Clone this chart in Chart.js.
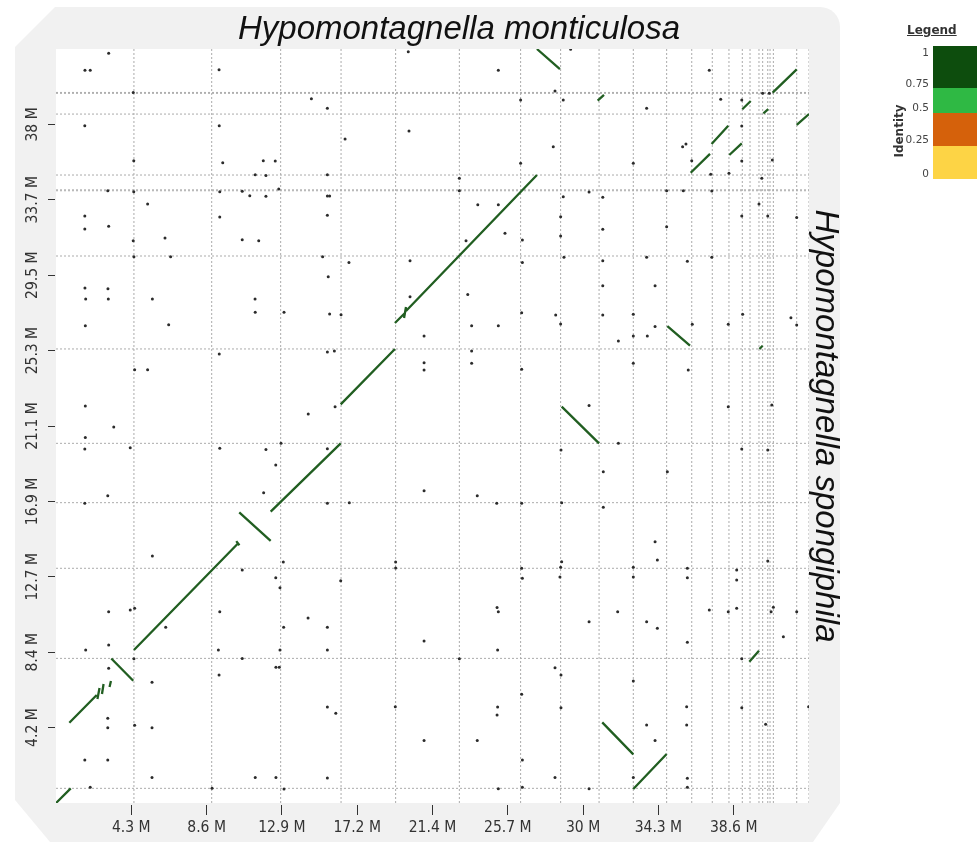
<!DOCTYPE html>
<html>
<head>
<meta charset="utf-8">
<script src="https://cdn.jsdelivr.net/npm/chart.js@4.4.1/dist/chart.umd.min.js"></script>
<style>
  html, body { margin: 0; padding: 0; background: #ffffff; }
  #wrap { position: relative; width: 977px; height: 842px; overflow: hidden; }
  #c { position: absolute; left: 0; top: 0; }
  .ttl { position: absolute; font-family: 'Liberation Sans', Arial, sans-serif; font-style: italic;
         font-size: 33px; line-height: 40px; height: 40px; color: #111; text-align: center; white-space: nowrap; }
  #ttlTop { left: 0; width: 918px; top: 8px; }
  #ttlRight { left: 577px; width: 500px; top: 406px; transform: rotate(90deg); transform-origin: 250px 20px; }
  #legendTitle { position: absolute; left: 907px; top: 23px; font: bold 12px 'DejaVu Sans', sans-serif;
                 color: #333; text-decoration: underline; }
  #legendBar { position: absolute; left: 933px; top: 46px; width: 44px; }
  .lgLab { position: absolute; right: 48px; font: 10.5px 'DejaVu Sans', sans-serif; color: #444; text-align: right; line-height: 12px; }
  #legendAxis { position: absolute; left: 869px; top: 124px; width: 60px; text-align: center;
                font: bold 12px 'DejaVu Sans', sans-serif; color: #333; transform: rotate(-90deg); line-height: 14px; }
</style>
</head>
<body>
<div id="wrap">
  <canvas id="c" width="977" height="842"></canvas>
  <div class="ttl" id="ttlTop">Hypomontagnella monticulosa</div>
  <div class="ttl" id="ttlRight">Hypomontagnella spongiphila</div>
  <div id="legendTitle">Legend</div>
  <div id="legendBar"></div>
  <div id="legendAxis">Identity</div>
</div>
<script>
// ---------------- data (Mb) ----------------
const xMaxMb = 42.9;
const yMaxMb = 42.18;

const xTickValues = [4.29, 8.58, 12.87, 17.16, 21.45, 25.74, 30.03, 34.32, 38.61];
const xTickLabels = ['4.3 M', '8.6 M', '12.9 M', '17.2 M', '21.4 M', '25.7 M', '30 M', '34.3 M', '38.6 M'];
const yTickValues = [4.218, 8.436, 12.654, 16.872, 21.09, 25.308, 29.526, 33.744, 37.962];
const yTickLabels = ['4.2 M', '8.4 M', '12.7 M', '16.9 M', '21.1 M', '25.3 M', '29.5 M', '33.7 M', '38 M'];

// contig boundaries of the query (x) and reference (y) assemblies
const xContigEnds = [4.44, 8.87, 12.80, 16.24, 19.35, 22.98, 26.47, 28.75, 30.94, 32.89, 34.79, 36.22,
                     37.39, 38.34, 39.10, 39.54, 40.05, 40.26, 40.55, 40.68, 40.87, 42.20, 42.90];
const yContigEnds = [0.82, 8.09, 13.13, 16.80, 20.12, 25.40, 30.60, 34.25, 34.30, 35.13, 38.54, 39.70, 39.75];

// alignment blocks: [xStart, yStart, xEnd, yEnd]
const alignSegments = [
  [0.00, 0.00, 0.84, 0.82],
  [0.76, 4.49, 2.32, 6.04],
  [2.36, 5.82, 2.48, 6.43],
  [2.62, 6.10, 2.71, 6.66],
  [3.05, 6.49, 3.13, 6.82],
  [3.15, 8.08, 4.40, 6.84],
  [4.44, 8.56, 10.38, 14.53],
  [10.27, 14.65, 10.45, 14.42],
  [10.44, 16.26, 12.23, 14.66],
  [12.23, 16.30, 16.22, 20.12],
  [16.22, 22.30, 19.31, 25.40],
  [19.31, 26.85, 19.88, 27.41],
  [19.83, 27.13, 19.94, 27.75],
  [19.94, 27.52, 27.40, 35.13],
  [27.40, 42.18, 28.71, 41.06],
  [30.86, 39.29, 31.22, 39.61],
  [36.16, 35.26, 37.26, 36.31],
  [37.35, 36.87, 38.30, 37.89],
  [38.36, 36.25, 39.07, 36.90],
  [39.10, 38.81, 39.58, 39.27],
  [40.30, 38.58, 40.58, 38.81],
  [40.83, 39.74, 42.20, 41.04],
  [42.20, 37.93, 42.90, 38.54],
  [34.83, 26.68, 36.12, 25.58],
  [40.07, 25.40, 40.26, 25.58],
  [28.81, 22.17, 30.94, 20.12],
  [31.12, 4.51, 32.89, 2.72],
  [32.89, 0.78, 34.79, 2.74],
  [39.50, 7.90, 40.05, 8.52]
];

// short hits: [x, y]
const hitPoints = [
[3.00,41.94],[1.65,40.99],[1.95,40.99],[9.29,41.02],[4.40,39.74],[14.55,39.40],[15.46,38.86],[1.64,37.89],[9.30,37.89],[16.47,37.15],
[20.11,37.59],[4.43,35.93],[9.50,35.82],[11.81,35.93],[12.49,35.91],[11.35,35.15],[11.96,35.11],[15.46,35.15],[2.95,34.25],[4.43,34.20],
[9.33,34.20],[10.61,34.22],[12.69,34.35],[11.04,33.97],[11.96,33.94],[15.46,33.96],[15.59,33.96],[5.22,33.51],[1.64,32.84],[9.33,32.78],
[15.46,32.88],[1.64,32.11],[3.00,32.26],[6.21,31.61],[10.61,31.51],[11.55,31.46],[4.40,31.46],[4.44,30.56],[6.53,30.56],[15.19,30.56],
[16.69,30.23],[20.17,30.34],[15.51,29.44],[1.65,28.81],[2.96,28.77],[1.69,28.19],[2.98,28.19],[5.49,28.19],[11.34,28.19],[20.17,28.32],
[11.35,27.45],[12.99,27.45],[15.59,27.36],[16.24,27.32],[1.67,26.70],[6.42,26.76],[9.30,25.12],[15.46,25.23],[15.86,25.29],[4.48,24.24],
[5.22,24.24],[1.67,22.21],[15.90,22.17],[14.37,21.76],[3.29,21.03],[1.67,20.44],[1.64,19.80],[4.23,19.88],[9.33,19.84],[11.96,19.77],
[15.46,19.82],[12.82,20.12],[12.52,18.91],[2.95,17.19],[11.83,17.36],[1.64,16.77],[15.46,16.77],[16.71,16.80],[5.49,13.82],[12.95,13.48],
[10.61,13.03],[19.35,13.48],[19.35,13.15],[12.52,12.60],[12.76,12.04],[16.22,12.44],[3.00,10.70],[4.23,10.80],[4.48,10.89],[9.33,10.70],
[14.36,10.35],[6.25,9.83],[12.97,9.83],[15.46,9.83],[1.69,8.56],[3.00,8.84],[9.25,8.56],[12.76,8.56],[15.46,8.56],[4.44,8.07],
[10.61,8.09],[3.00,7.54],[12.53,7.59],[12.72,7.59],[9.29,7.16],[5.47,6.75],[15.46,5.37],[15.94,5.02],[19.33,5.39],[2.95,4.74],
[2.95,4.21],[4.48,4.35],[5.47,4.21],[1.64,2.41],[2.95,2.41],[5.47,1.42],[11.35,1.42],[12.53,1.42],[15.46,1.40],[1.95,0.88],
[8.89,0.82],[12.99,0.78],
[20.07,42.03],[29.32,42.16],[25.20,40.99],[37.22,40.99],[28.43,39.83],[26.47,39.33],[28.90,39.33],[37.87,39.37],[39.07,39.33],[33.65,38.86],
[28.33,36.71],[35.70,36.71],[35.89,36.87],[39.07,37.87],[26.47,35.79],[32.89,35.79],[39.07,35.91],[40.81,35.97],[37.30,35.17],[38.34,35.23],
[22.98,34.95],[40.21,34.95],[22.98,34.25],[30.37,34.18],[34.79,34.25],[35.74,34.25],[37.36,34.24],[28.90,33.92],[31.15,33.88],[24.03,33.47],
[25.20,33.47],[40.05,33.51],[28.75,32.80],[39.07,32.84],[40.55,32.84],[31.15,32.09],[34.79,32.24],[23.36,31.46],[25.58,31.87],[26.57,31.50],
[28.75,31.72],[26.57,30.23],[28.94,30.53],[31.15,30.34],[33.65,30.53],[35.97,30.30],[37.36,30.53],[23.46,28.44],[31.15,28.94],[34.13,28.94],
[26.53,27.43],[28.47,27.30],[31.15,27.30],[32.89,27.34],[39.12,27.34],[23.68,26.70],[25.20,26.70],[28.75,26.80],[34.13,26.65],[36.25,26.78],
[38.30,26.78],[41.87,27.15],[42.20,26.74],[20.97,26.13],[32.04,25.85],[32.89,26.13],[33.69,26.13],[23.68,25.29],[20.97,24.63],[20.97,24.22],
[23.68,24.60],[32.89,24.60],[26.53,24.26],[36.02,24.22],[30.37,22.23],[38.30,22.17],[40.78,22.26],[28.77,19.75],[32.04,20.12],[39.07,19.80],
[40.55,19.75],[31.18,18.53],[34.83,18.53],[20.97,17.47],[24.00,17.19],[25.11,16.77],[26.53,16.77],[28.81,16.80],[31.18,16.54],[34.13,14.62],
[34.26,13.59],[28.81,13.50],[40.55,13.54],[26.53,13.13],[28.75,13.19],[32.89,13.19],[35.97,13.13],[38.78,13.03],
[26.57,12.57],[28.71,12.64],[32.89,12.64],[35.97,12.60],[38.78,12.47],[25.13,10.93],[25.20,10.70],[32.00,10.70],[37.22,10.80],[38.30,10.70],
[38.78,10.89],[40.74,10.70],[40.87,10.95],[42.20,10.70],[30.37,10.14],[33.65,10.14],[34.26,9.77],[41.44,9.30],[20.97,9.06],[25.16,8.56],
[35.97,8.99],[22.98,8.07],[39.07,8.07],[28.43,7.57],[28.77,7.16],[32.89,6.82],[26.53,6.08],[25.16,5.37],[25.13,4.92],[28.77,5.33],
[35.93,5.39],[39.07,5.33],[33.65,4.36],[35.93,4.36],[40.43,4.40],[20.97,3.49],[24.00,3.49],[34.13,3.49],[26.57,2.41],[28.43,1.42],
[32.89,1.42],[35.97,1.38],[25.20,0.80],[26.57,0.88],[30.37,0.80],[35.97,0.88],
[42.20,32.76],[36.22,35.93],[42.88,5.39],[40.26,39.70],[40.64,39.70]
];

// identity colour key
const legendStops = ['1', '0.75', '0.5', '0.25', '0'];
const legendColors = ['#0d4d0d', '#2fb944', '#d5610b', '#fdd445'];

// ---------------- build datasets ----------------
const vGrid = [];
xContigEnds.forEach(v => { vGrid.push({x: v, y: 0}, {x: v, y: yMaxMb}, {x: v, y: null}); });
const hGrid = [];
yContigEnds.forEach(v => { hGrid.push({x: 0, y: v}, {x: xMaxMb, y: v}, {x: xMaxMb, y: null}); });
const segData = [];
alignSegments.forEach(s => { segData.push({x: s[0], y: s[1]}, {x: s[2], y: s[3]}, {x: s[2], y: null}); });
const hitData = hitPoints.map(p => ({x: p[0], y: p[1]}));

const panelPlugin = {
  id: 'panel',
  beforeDraw(chart) {
    const ctx = chart.ctx, a = chart.chartArea;
    ctx.save();
    ctx.fillStyle = '#f1f1f1';
    ctx.beginPath();
    ctx.moveTo(15, 47);
    ctx.lineTo(55, 7);
    ctx.lineTo(820, 7);
    ctx.arcTo(840, 7, 840, 27, 20);
    ctx.lineTo(840, 803);
    ctx.lineTo(813, 842);
    ctx.lineTo(50, 842);
    ctx.lineTo(15, 800);
    ctx.closePath();
    ctx.fill();
    ctx.fillStyle = '#ffffff';
    ctx.fillRect(a.left, a.top, a.right - a.left, a.bottom - a.top);
    ctx.restore();
  }
};

const tickFont = { family: "'DejaVu Sans Condensed', 'DejaVu Sans', sans-serif", size: 15.5 };

new Chart(document.getElementById('c'), {
  type: 'scatter',
  data: {
    datasets: [
      { type: 'line', data: hitData, showLine: false, pointRadius: 1.5, pointBackgroundColor: '#2b2b2b',
        pointBorderWidth: 0, order: 0 },
      { type: 'line', data: segData, borderColor: '#215e21', borderWidth: 2.3, pointRadius: 0, spanGaps: false,
        fill: false, order: 1 },
      { type: 'line', data: vGrid, borderColor: '#ababab', borderWidth: 1, borderDash: [2, 2], pointRadius: 0,
        spanGaps: false, fill: false, order: 2 },
      { type: 'line', data: hGrid, borderColor: '#ababab', borderWidth: 1, borderDash: [2, 2], pointRadius: 0,
        spanGaps: false, fill: false, order: 3 }
    ]
  },
  options: {
    responsive: false,
    animation: false,
    devicePixelRatio: 1,
    layout: { padding: { left: 0, top: 49, right: 168, bottom: 0 } },
    plugins: { legend: { display: false }, tooltip: { enabled: false }, title: { display: false } },
    scales: {
      x: {
        type: 'linear', position: 'bottom', min: 0, max: xMaxMb,
        afterBuildTicks: s => { s.ticks = xTickValues.map(v => ({ value: v })); },
        afterFit: s => { s.height = 39; },
        ticks: { callback: (v, i) => xTickLabels[i], font: tickFont, color: '#333', padding: 4, autoSkip: false,
                 maxRotation: 0, minRotation: 0 },
        grid: { drawOnChartArea: false, drawTicks: true, tickLength: 12, color: '#333', lineWidth: 1 },
        border: { display: true, width: 4, color: 'rgba(0,0,0,0)' }
      },
      y: {
        type: 'linear', position: 'left', min: 0, max: yMaxMb,
        afterBuildTicks: s => { s.ticks = yTickValues.map(v => ({ value: v })); },
        afterFit: s => { s.width = 56; },
        ticks: { callback: (v, i) => yTickLabels[i], font: tickFont, color: '#333', padding: -9, autoSkip: false,
                 minRotation: 90, maxRotation: 90, crossAlign: 'center' },
        grid: { drawOnChartArea: false, drawTicks: true, tickLength: 8, color: '#333', lineWidth: 1 },
        border: { display: true, width: 2, color: 'rgba(0,0,0,0)' }
      }
    }
  },
  plugins: [panelPlugin]
});

// legend colour key (HTML)
const bar = document.getElementById('legendBar');
const blockHeights = [42, 25, 33, 33];
legendColors.forEach((c, i) => {
  const d = document.createElement('div');
  d.style.cssText = 'height:' + blockHeights[i] + 'px;background:' + c;
  bar.appendChild(d);
});
const labelCentres = [52, 83, 107, 139, 173];
legendStops.forEach((t, i) => {
  const d = document.createElement('div');
  d.className = 'lgLab';
  d.textContent = t;
  d.style.top = (labelCentres[i] - 6) + 'px';
  document.getElementById('wrap').appendChild(d);
});
</script>
</body>
</html>
